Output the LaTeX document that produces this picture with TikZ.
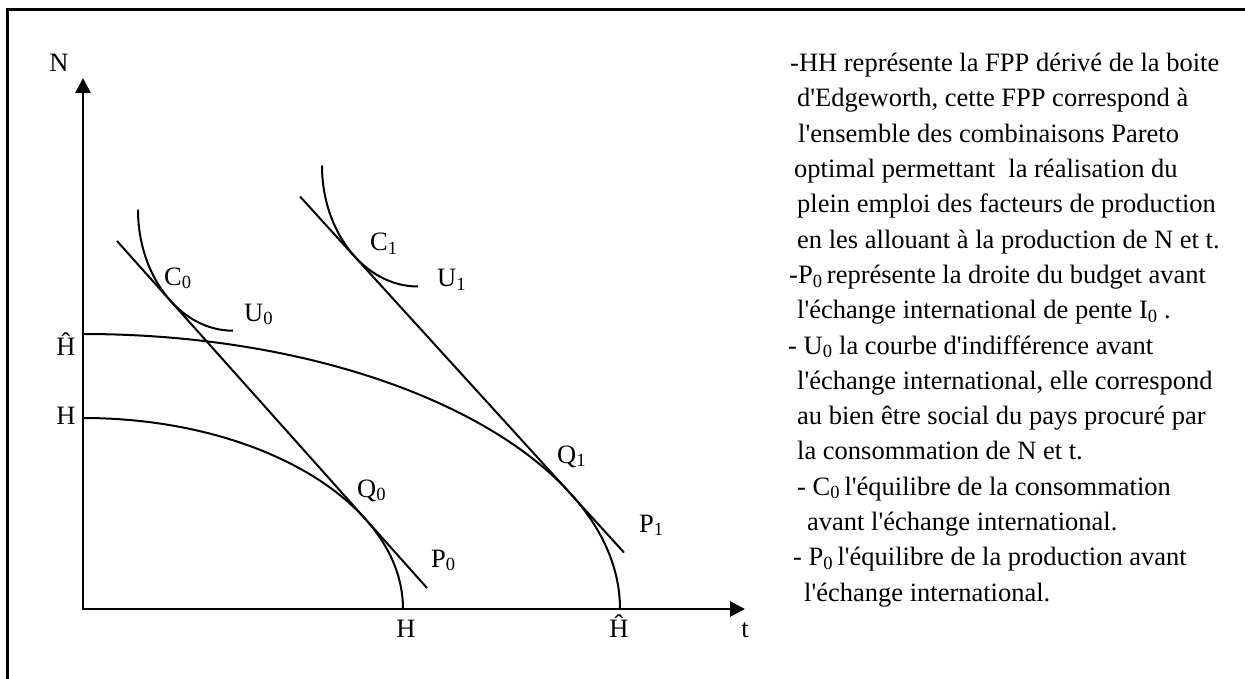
\documentclass[tikz,border=0pt]{standalone}
\usepackage{fontspec}
\newfontfamily\tnr{Liberation Serif}
\usetikzlibrary{arrows.meta}
\begin{document}
\begin{tikzpicture}[x=1pt,y=1pt,
  lbl/.style={inner sep=0pt, font=\tnr\fontsize{26.5}{30}\selectfont},
  txt/.style={inner sep=0pt, anchor=base west, font=\tnr\fontsize{26.5}{30}\selectfont},
  axisline/.style={line width=2.8pt, line join=miter,
    {Triangle[length=15pt,width=15pt]}-{Triangle[length=15pt,width=15pt]}},
  curve/.style={line width=2pt},
  frame/.style={line width=2.2pt}]
\useasboundingbox (0,-679) rectangle (1245,0);
% frame
\coordinate (FB) at (7.5,-700);
\coordinate (FC) at (7.5,-9.5);
\coordinate (FR) at (1260,-9.5);
\draw[frame] (FB) -- (FC) -- (FR);
% axes
\coordinate (O) at (83,-609);
\coordinate (Ntip) at (83,-78);
\coordinate (Ttip) at (745,-609);
\draw[axisline] (Ntip) -- (O) -- (Ttip);
% production frontiers
\coordinate (Hhat0) at (83,-334);
\coordinate (H0) at (83,-418);
\draw[curve] (Hhat0) arc[start angle=90,end angle=0,x radius=537pt,y radius=275pt];
\draw[curve] (H0) arc[start angle=90,end angle=0,x radius=320pt,y radius=191pt];
% indifference curves
\coordinate (U0s) at (138,-209.7);
\coordinate (U1s) at (322,-165.5);
\draw[curve] (U0s) arc[start angle=180,end angle=270,x radius=95pt,y radius=121pt];
\draw[curve] (U1s) arc[start angle=180,end angle=270,x radius=96pt,y radius=121pt];
% budget lines
\coordinate (P0a) at (117,-241);
\coordinate (P0b) at (427,-588);
\coordinate (P1a) at (300,-196.5);
\coordinate (P1b) at (624,-552.5);
\draw[curve] (P0a) -- (P0b);
\draw[curve] (P1a) -- (P1b);
% axis labels
\node[lbl,anchor=base] (lN) at (59,-71.7) {N};
\node[lbl,anchor=base] (lHhatL) at (66,-355) {Ĥ};
\node[lbl,anchor=base] (lHL) at (66,-424) {H};
\node[lbl,anchor=base] (lHB) at (406,-637) {H};
\node[lbl,anchor=base] (lHhatB) at (619,-637) {Ĥ};
\node[lbl,anchor=base] (lt) at (745,-637) {t};
% point labels
\node[lbl,anchor=base west] (lC0) at (164,-285) {C\textsubscript{0}};
\node[lbl,anchor=base west] (lU0) at (244,-321) {U\textsubscript{0}};
\node[lbl,anchor=base west] (lC1) at (370,-251) {C\textsubscript{1}};
\node[lbl,anchor=base west] (lU1) at (437,-287) {U\textsubscript{1}};
\node[lbl,anchor=base west] (lQ0) at (357,-497) {Q\textsubscript{0}};
\node[lbl,anchor=base west] (lP0) at (431,-567) {P\textsubscript{0}};
\node[lbl,anchor=base west] (lQ1) at (557,-463) {Q\textsubscript{1}};
\node[lbl,anchor=base west] (lP1) at (639,-532) {P\textsubscript{1}};
% explanatory text
\node[txt] (t1) at (790,-71.7) {-HH représente la FPP dérivé de la boite};
\node[txt] (t2) at (797,-107.0) {d'Edgeworth, cette FPP correspond à};
\node[txt] (t3) at (798,-142.3) {l'ensemble des combinaisons Pareto};
\node[txt] (t4) at (794,-177.6) {optimal permettant~ la réalisation du};
\node[txt] (t5) at (797,-212.9) {plein emploi des facteurs de production};
\node[txt] (t6) at (797,-248.1) {en les allouant à la production de N et t.};
\node[txt] (t7) at (789,-283.4) {-P\textsubscript{0}\,représente la droite du budget avant};
\node[txt] (t8) at (797,-318.7) {l'échange international de pente I\textsubscript{0} .};
\node[txt] (t9) at (788,-354.0) {- U\textsubscript{0} la courbe d'indifférence avant};
\node[txt] (t10) at (797,-389.3) {l'échange international, elle correspond};
\node[txt] (t11) at (797,-424.6) {au bien être social du pays procuré par};
\node[txt] (t12) at (797,-459.9) {la consommation de N et t.};
\node[txt] (t13) at (797,-495.2) {- C\textsubscript{0}\,l'équilibre de la consommation};
\node[txt] (t14) at (807,-530.5) {avant l'échange international.};
\node[txt] (t15) at (793,-565.8) {- P\textsubscript{0}\,l'équilibre de la production avant};
\node[txt] (t16) at (804,-601.0) {l'échange international.};
\end{tikzpicture}
\end{document}
